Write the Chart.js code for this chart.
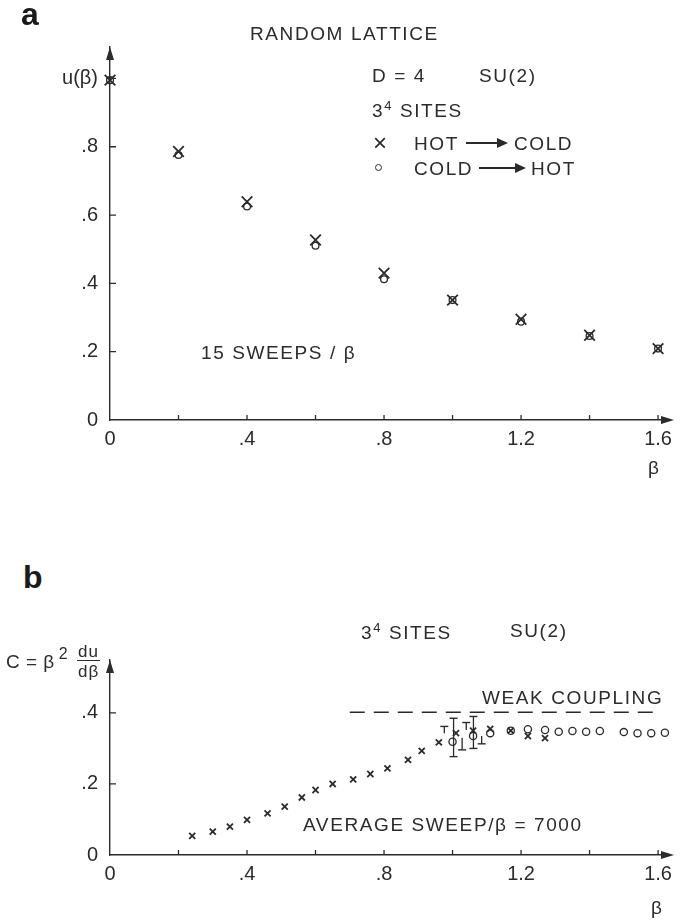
<!DOCTYPE html>
<html>
<head>
<meta charset="utf-8">
<script src="https://cdn.jsdelivr.net/npm/chart.js@4.4.1/dist/chart.umd.min.js"></script>
<style>
  html, body { margin: 0; padding: 0; background: #fff; }
  #page { position: relative; width: 683px; height: 920px; overflow: hidden;
          font-family: "Liberation Sans", Arial, sans-serif; color: #2b2b2b; }
  canvas { position: absolute; left: 0; }
  .t { position: absolute; white-space: nowrap; font-size: 19px; letter-spacing: 1.6px; line-height: 1; }
  .lbl { position: absolute; font-weight: bold; font-size: 32px; line-height: 1; color: #1a1a1a; }
  .arr { display: inline-block; position: relative; height: 2px; background: #2b2b2b; vertical-align: middle; }
  .arr::after { content: ''; position: absolute; right: -2px; top: -4px; border-left: 11px solid #2b2b2b;
                border-top: 5px solid transparent; border-bottom: 5px solid transparent; }
  .ring { position: absolute; width: 5px; height: 5px; border: 1.3px solid #2b2b2b; border-radius: 50%; }
</style>
</head>
<body>
<div id="page">
  <canvas id="chartA" width="683" height="480" style="top:0"></canvas>
  <canvas id="chartB" width="683" height="320" style="top:600px"></canvas>

  <!-- panel a text -->
  <div class="lbl" style="left:21px; top:-2px">a</div>
  <div class="t" style="left:250px; top:24px">RANDOM LATTICE</div>
  <div class="t" style="left:372px; top:66px">D = 4</div>
  <div class="t" style="left:479px; top:66px">SU(2)</div>
  <div class="t" style="left:372px; top:99px">3<sup style="font-size:13px; vertical-align:7px">4</sup> SITES</div>
  <div class="t" style="left:373px; top:131px; font-size:24px">×</div>
  <div class="t" style="left:414px; top:134px">HOT</div>
  <span class="arr" style="position:absolute; left:466px; top:142px; width:40px"></span>
  <div class="t" style="left:514px; top:134px">COLD</div>
  <span class="ring" style="left:375px; top:164px"></span>
  <div class="t" style="left:414px; top:159px">COLD</div>
  <span class="arr" style="position:absolute; left:479px; top:167px; width:45px"></span>
  <div class="t" style="left:531px; top:159px">HOT</div>
  <div class="t" style="left:201px; top:343px">15 SWEEPS / β</div>
  <div class="t" style="left:648px; top:458px">β</div>

  <!-- panel b text -->
  <div class="lbl" style="left:23px; top:561px">b</div>
  <div class="t" style="left:361px; top:621px">3<sup style="font-size:13px; vertical-align:7px">4</sup> SITES</div>
  <div class="t" style="left:510px; top:621px">SU(2)</div>
  <div class="t" style="left:6px; top:646px; letter-spacing:0.5px">C = β<span style="font-size:16px; vertical-align:9px; margin-left:4px">2</span></div>
  <div class="t" style="left:78px; top:643px; font-size:17px; letter-spacing:1px">du</div>
  <div style="position:absolute; left:77px; top:660px; width:23px; height:1.3px; background:#2b2b2b"></div>
  <div class="t" style="left:78px; top:663px; font-size:17px; letter-spacing:1px">dβ</div>
  <div class="t" style="left:482px; top:688px">WEAK COUPLING</div>
  <div class="t" style="left:303px; top:815px">AVERAGE SWEEP/β = 7000</div>
  <div class="t" style="left:651px; top:898px">β</div>
</div>

<script>
// ---- panel a : u(beta), 15 sweeps per beta ----
const betaA = [0, 0.2, 0.4, 0.6, 0.8, 1.0, 1.2, 1.4, 1.6];
const hotColdA = [0.995, 0.786, 0.639, 0.527, 0.430, 0.351, 0.295, 0.248, 0.209];
const coldHotA = [0.995, 0.776, 0.625, 0.510, 0.412, 0.351, 0.288, 0.246, 0.209];

// ---- panel b : specific heat C, average 7000 sweeps per beta ----
const betaHotB = [0.24, 0.30, 0.35, 0.40, 0.46, 0.51, 0.56, 0.60, 0.65, 0.71, 0.76,
                  0.81, 0.87, 0.91, 0.96, 1.01, 1.06, 1.11, 1.17, 1.22, 1.27];
const hotColdB = [0.054, 0.066, 0.080, 0.099, 0.117, 0.136, 0.162, 0.183, 0.200, 0.213, 0.228,
                  0.244, 0.268, 0.293, 0.317, 0.343, 0.350, 0.355, 0.350, 0.335, 0.329];
const betaColdB = [1.00, 1.06, 1.11, 1.17, 1.22, 1.27, 1.31, 1.35, 1.39, 1.43, 1.50, 1.54, 1.58, 1.62];
const coldHotB = [0.319, 0.335, 0.343, 0.350, 0.354, 0.352, 0.347, 0.349, 0.347, 0.349, 0.346, 0.343, 0.343, 0.344];

// error bars near beta = 1
const errBeta = [0.976, 1.003, 1.028, 1.040, 1.061, 1.085];
const errLow  = [0.343, 0.277, 0.296, 0.352, 0.300, 0.313];
const errHigh = [0.362, 0.385, 0.330, 0.373, 0.390, 0.335];
const errCaps = ['top', 'both', 'bottom', 'top', 'both', 'bottom'];

// weak coupling limit (dashed)
const weakBeta = [0.70, 1.61];
const weakC = 0.402;

const INK = '#2b2b2b';
const FONT = { family: '"Liberation Sans", Arial, sans-serif', size: 20 };

function pts(xs, ys) {
  return xs.map((b, i) => ({ x: b, y: ys[i] }));
}

function fmt(v) {
  const r = Math.round(v * 10) / 10;
  if (r === 0) return '0';
  return r < 1 ? '.' + Math.round(r * 10) : r.toFixed(1);
}

// inward tick marks + arrow heads on both axes
const axisDecor = {
  id: 'axisDecor',
  afterDraw(chart) {
    const { ctx, chartArea: a, scales: { x, y } } = chart;
    ctx.save();
    ctx.strokeStyle = INK;
    ctx.fillStyle = INK;
    ctx.lineWidth = 1.3;
    ctx.beginPath();
    x.ticks.forEach(t => {
      if (t.value <= 0) return;
      const px = x.getPixelForValue(t.value);
      ctx.moveTo(px, a.bottom);
      ctx.lineTo(px, a.bottom - 5);
    });
    y.ticks.forEach(t => {
      if (t.value <= 0) return;
      const py = y.getPixelForValue(t.value);
      ctx.moveTo(a.left, py);
      ctx.lineTo(a.left + 6, py);
    });
    ctx.stroke();
    ctx.beginPath();
    ctx.moveTo(a.right + 6, a.bottom);
    ctx.lineTo(a.right - 7, a.bottom - 4);
    ctx.lineTo(a.right - 7, a.bottom + 4);
    ctx.closePath();
    ctx.moveTo(a.left, a.top);
    ctx.lineTo(a.left - 4, a.top + 13);
    ctx.lineTo(a.left + 4, a.top + 13);
    ctx.closePath();
    ctx.fill();
    ctx.restore();
  }
};

function xScale() {
  return {
    type: 'linear', min: 0, max: 1.629,
    afterFit: s => { s.height = 40; },
    grid: { drawOnChartArea: false, drawTicks: false },
    border: { display: true, color: INK, width: 1.4 },
    ticks: {
      stepSize: 0.2, includeBounds: false, padding: 7, color: INK, font: FONT, maxRotation: 0, autoSkip: false,
      callback: v => (Math.round(v * 10) % 4 === 0 ? fmt(v) : '')
    }
  };
}

function yScale(max, topLabel) {
  return {
    type: 'linear', min: 0, max: max,
    afterFit: s => { s.width = 70; },
    grid: { drawOnChartArea: false, drawTicks: false },
    border: { display: true, color: INK, width: 1.4 },
    ticks: {
      stepSize: 0.2, includeBounds: false, padding: 12, color: INK, font: FONT, autoSkip: false,
      callback: v => (topLabel && Math.round(v * 10) === 10 ? topLabel : fmt(v))
    }
  };
}

const common = {
  responsive: false,
  animation: false,
  events: [],
  plugins: { legend: { display: false }, tooltip: { enabled: false } }
};

new Chart(document.getElementById('chartA'), {
  type: 'scatter',
  data: {
    datasets: [
      {
        label: 'COLD → HOT', data: pts(betaA, coldHotA), clip: false,
        pointStyle: 'circle', pointRadius: 3.4, borderWidth: 1.3,
        borderColor: INK, backgroundColor: 'rgba(0,0,0,0)'
      },
      {
        label: 'HOT → COLD', data: pts(betaA, hotColdA), clip: false,
        pointStyle: 'crossRot', pointRadius: 7.5, borderWidth: 1.8,
        borderColor: INK, backgroundColor: INK
      }
    ]
  },
  options: {
    ...common,
    layout: { padding: { left: 40, right: 15, top: 47, bottom: 20 } },
    scales: { x: xScale(), y: yScale(1.092, 'u(β)') }
  },
  plugins: [axisDecor]
});

const errSets = errBeta.map((b, i) => ({
  label: 'error', data: [{ x: b, y: errLow[i] }, { x: b, y: errHigh[i] }],
  showLine: true, clip: false, borderColor: INK, borderWidth: 1.3,
  pointStyle: 'line', pointBorderWidth: 1.4,
  pointRadius: [errCaps[i] === 'top' ? 0 : 4, errCaps[i] === 'bottom' ? 0 : 4]
}));

new Chart(document.getElementById('chartB'), {
  type: 'scatter',
  data: {
    datasets: [
      {
        label: 'WEAK COUPLING', data: weakBeta.map(b => ({ x: b, y: weakC })),
        showLine: true, borderColor: INK, borderWidth: 1.6, borderDash: [15, 9], pointRadius: 0
      },
      ...errSets,
      {
        label: 'COLD → HOT', data: pts(betaColdB, coldHotB), clip: false,
        pointStyle: 'circle', pointRadius: 3.6, borderWidth: 1.3,
        borderColor: INK, backgroundColor: 'rgba(0,0,0,0)'
      },
      {
        label: 'HOT → COLD', data: pts(betaHotB, hotColdB), clip: false,
        pointStyle: 'crossRot', pointRadius: 4.3, borderWidth: 1.8,
        borderColor: INK, backgroundColor: INK
      }
    ]
  },
  options: {
    ...common,
    layout: { padding: { left: 40, right: 15, top: 60, bottom: 25 } },
    scales: { x: xScale(), y: yScale(0.549, null) }
  },
  plugins: [axisDecor]
});
</script>
</body>
</html>
